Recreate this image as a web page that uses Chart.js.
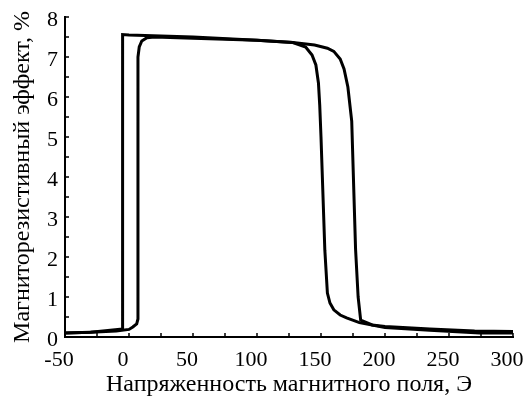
<!DOCTYPE html>
<html lang="ru">
<head>
  <meta charset="UTF-8" />
  <title>Магниторезистивный эффект</title>
  <script src="https://cdn.jsdelivr.net/npm/chart.js"></script>
  <style>
    body { margin: 0; background: #fff; }
    .wrap { width: 528px; height: 399px; position: relative; }
  </style>
</head>
<body>
  <div class="wrap"><canvas id="mr"></canvas></div>
  <script>
    // branch with increasing field (low -> high near 7 Oe, drop near 175 Oe)
    const upX = [-50, -30, -10, 0, 3, 6, 7, 7, 8, 10, 14, 20, 50, 100, 128, 145, 155, 160, 165, 168, 171, 174, 177, 179, 181, 190, 200, 235, 270, 300];
    const upY = [0.10, 0.12, 0.15, 0.19, 0.25, 0.33, 0.45, 7.0, 7.25, 7.4, 7.48, 7.5, 7.47, 7.42, 7.36, 7.3, 7.22, 7.14, 6.95, 6.7, 6.25, 5.4, 2.2, 1.0, 0.42, 0.3, 0.26, 0.2, 0.15, 0.14];
    // branch with decreasing field (rise near 150 Oe, drop near -5 Oe)
    const downX = [300, 274, 235, 200, 180, 170, 165, 160, 157, 155, 153, 150, 149, 148, 146, 143, 138, 128, 100, 50, 0, -5, -5, -30, -50];
    const downY = [0.10, 0.10, 0.17, 0.24, 0.36, 0.48, 0.55, 0.68, 0.85, 1.1, 2.17, 5.0, 5.8, 6.35, 6.8, 7.05, 7.25, 7.36, 7.42, 7.5, 7.55, 7.56, 0.2, 0.12, 0.10];

    const xMin = -50, xMax = 300, xStep = 25, xLabelStep = 50;
    const yMin = 0, yMax = 8, yStep = 0.5, yLabelStep = 1;

    const toPoints = (xs, ys) => xs.map((x, i) => ({ x: x, y: ys[i] }));

    const serif = 'Liberation Serif, Times New Roman, serif';

    // ticks pointing into the plot
    const innerTicks = {
      id: 'innerTicks',
      afterDraw(chart) {
        const ctx = chart.ctx;
        const xs = chart.scales.x, ys = chart.scales.y;
        const area = chart.chartArea;
        ctx.save();
        ctx.strokeStyle = '#000';
        ctx.lineWidth = 1.5;
        ctx.beginPath();
        xs.ticks.forEach(t => {
          const px = xs.getPixelForValue(t.value);
          ctx.moveTo(px, area.bottom);
          ctx.lineTo(px, area.bottom - 4);
        });
        ys.ticks.forEach(t => {
          const py = ys.getPixelForValue(t.value);
          ctx.moveTo(area.left, py);
          ctx.lineTo(area.left + 4, py);
        });
        ctx.stroke();
        ctx.restore();
      }
    };

    const lineStyle = {
      borderColor: '#000',
      borderWidth: 3,
      pointRadius: 0,
      fill: false,
      tension: 0
    };

    new Chart(document.getElementById('mr'), {
      type: 'line',
      data: {
        datasets: [
          Object.assign({ label: 'up', data: toPoints(upX, upY) }, lineStyle),
          Object.assign({ label: 'down', data: toPoints(downX, downY) }, lineStyle)
        ]
      },
      options: {
        responsive: true,
        maintainAspectRatio: false,
        animation: false,
        layout: { padding: { top: 17, right: 15, left: 0, bottom: 0 } },
        plugins: {
          legend: { display: false },
          tooltip: { enabled: false }
        },
        scales: {
          x: {
            type: 'linear',
            min: xMin,
            max: xMax,
            afterFit: s => { s.height = 62; s.paddingLeft = 0; s.paddingRight = 0; },
            border: { display: true, color: '#000', width: 2 },
            grid: { drawOnChartArea: false, drawTicks: false },
            ticks: {
              stepSize: xStep,
              autoSkip: false,
              maxRotation: 0,
              padding: 10,
              labelOffset: -6,
              color: '#000',
              font: { family: serif, size: 22 },
              callback: v => (v % xLabelStep === 0 ? String(v) : '')
            },
            title: {
              display: true,
              text: 'Напряженность магнитного поля, Э',
              color: '#000',
              font: { family: serif, size: 24 },
              padding: { top: 0, bottom: 0 }
            }
          },
          y: {
            min: yMin,
            max: yMax,
            afterFit: s => { s.width = 65; s.paddingTop = 0; s.paddingBottom = 0; },
            border: { display: true, color: '#000', width: 2 },
            grid: { drawOnChartArea: false, drawTicks: false },
            ticks: {
              stepSize: yStep,
              autoSkip: false,
              padding: 7,
              labelOffset: 3,
              color: '#000',
              font: { family: serif, size: 22 },
              callback: v => (v % yLabelStep === 0 ? String(v) : '')
            },
            title: {
              display: true,
              text: 'Магниторезистивный эффект, %',
              color: '#000',
              font: { family: serif, size: 24 },
              padding: { top: 8, bottom: 0 }
            }
          }
        }
      },
      plugins: [innerTicks]
    });
  </script>
</body>
</html>
